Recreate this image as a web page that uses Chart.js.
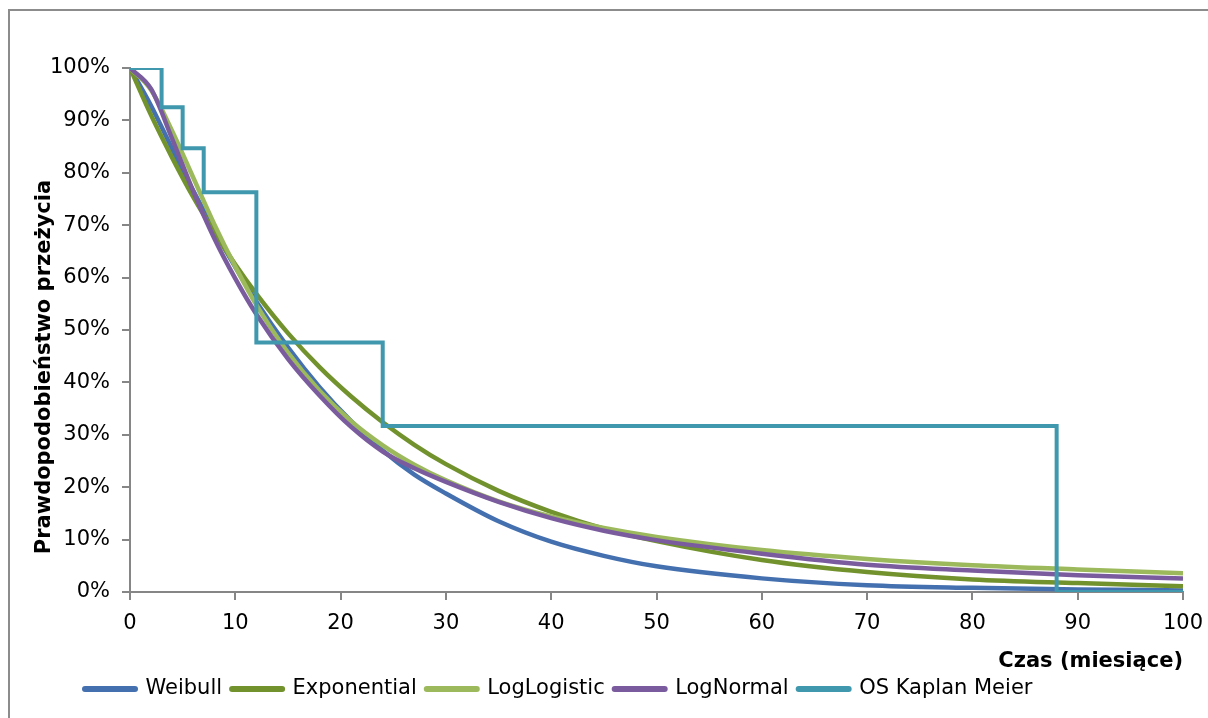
<!DOCTYPE html>
<html>
<head>
<meta charset="utf-8">
<script src="https://cdn.jsdelivr.net/npm/chart.js@4.4.1/dist/chart.umd.min.js"></script>
<style>
    html, body { margin: 0; padding: 0; background: #fff; overflow: hidden; }
    #frame { position: absolute; left: 8px; top: 9px; width: 1260px; height: 760px; border: 2px solid #8c8c8c; }
    #wrap { position: absolute; left: 0; top: 0; width: 1208px; height: 718px; }
</style>
</head>
<body>
<div id="frame"></div>
<div id="wrap"><canvas id="chart" width="1208" height="718"></canvas></div>
<script>
// Months on the x axis where the fitted curves were read
const months = [0, 2, 4, 6, 8, 10, 12, 15, 18, 21, 24, 27, 30, 35, 40, 45, 50, 60, 70, 80, 90, 100];

// Survival (%) of each parametric fit
const weibull     = [100, 92.8, 84.6, 76.6, 69.1, 62.0, 55.4, 46.7, 39.1, 32.6, 27.0, 22.4, 18.8, 13.5, 9.6, 6.9, 4.9, 2.6, 1.3, 0.8, 0.5, 0.3];
const exponential = [100, 91.0, 82.9, 75.4, 68.7, 62.5, 56.9, 49.4, 42.9, 37.3, 32.4, 28.1, 24.4, 19.3, 15.3, 12.1, 9.7, 6.1, 3.8, 2.4, 1.7, 1.1];
const logLogistic = [100, 95.8, 88.0, 79.1, 70.2, 62.1, 54.8, 45.7, 38.4, 32.6, 28.0, 24.3, 21.3, 17.3, 14.4, 12.2, 10.5, 8.0, 6.3, 5.1, 4.3, 3.6];
const logNormal   = [100, 96.0, 86.5, 76.5, 67.5, 59.8, 53.0, 44.5, 37.5, 31.5, 26.8, 23.6, 21.0, 17.2, 14.1, 11.7, 9.9, 7.3, 5.2, 4.1, 3.2, 2.6];

// Kaplan-Meier steps: month of each drop and survival after it
const kmMonths = [0, 3, 5, 7, 12, 24, 88, 100];
const kmValues = [100, 92.5, 84.7, 76.3, 47.6, 31.7, 0, 0];

const xTicks = [0, 10, 20, 30, 40, 50, 60, 70, 80, 90, 100];
const yTicks = [0, 10, 20, 30, 40, 50, 60, 70, 80, 90, 100];

const yTitle = 'Prawdopodobieństwo przeżycia';

const toPoints = (xs, ys) => xs.map((x, i) => ({ x: x, y: ys[i] }));

const axisGrey = '#868686';
const font = { family: '"DejaVu Sans", Verdana, sans-serif', size: 21 };
const boldFont = { family: font.family, size: 21, weight: 'bold' };

function curve(label, values, color, order) {
    return {
        label: label,
        data: toPoints(months, values),
        borderColor: color,
        backgroundColor: color,
        borderWidth: 4.5,
        pointRadius: 0,
        cubicInterpolationMode: 'monotone',
        order: order
    };
}

// shift the legend right so it starts under the plot like the original
const legendShift = {
    id: 'legendShift',
    afterLayout(chart) {
        chart.legend.left += 75;
    }
};

// vertical axis title, sitting a bit below the middle of the plot as in the original
const yTitlePlugin = {
    id: 'yTitle',
    afterDraw(chart) {
        const ctx = chart.ctx;
        const area = chart.chartArea;
        ctx.save();
        ctx.translate(45, (area.top + area.bottom) / 2 + 37);
        ctx.rotate(-Math.PI / 2);
        ctx.font = 'bold 21px ' + font.family;
        ctx.fillStyle = '#000';
        ctx.textAlign = 'center';
        ctx.textBaseline = 'middle';
        ctx.fillText(yTitle, 0, 0);
        ctx.restore();
    }
};

new Chart(document.getElementById('chart'), {
    type: 'line',
    data: {
        datasets: [
            curve('Weibull', weibull, '#4470b0', 5),
            curve('Exponential', exponential, '#72922e', 4),
            curve('LogLogistic', logLogistic, '#9cba5c', 3),
            curve('LogNormal', logNormal, '#7a5c9e', 2),
            {
                label: 'OS Kaplan Meier',
                data: toPoints(kmMonths, kmValues),
                borderColor: '#3f98ad',
                backgroundColor: '#3f98ad',
                borderWidth: 4,
                pointRadius: 0,
                stepped: 'before',
                order: 1
            }
        ]
    },
    options: {
        responsive: false,
        animation: false,
        devicePixelRatio: 1,
        layout: { padding: { left: 0, top: 68, right: 25, bottom: 8.5 } },
        plugins: {
            tooltip: { enabled: false },
            legend: {
                position: 'bottom',
                align: 'start',
                labels: {
                    font: font,
                    color: '#000',
                    padding: 10,
                    usePointStyle: true,
                    pointStyle: 'line',
                    pointStyleWidth: 50,
                    sort: (a, b) => a.datasetIndex - b.datasetIndex,
                    generateLabels: (chart) => Chart.defaults.plugins.legend.labels.generateLabels(chart)
                        .map(item => Object.assign(item, { lineWidth: 6, lineCap: 'round' }))
                }
            }
        },
        scales: {
            x: {
                type: 'linear',
                min: 0,
                max: 100,
                afterBuildTicks: (axis) => { axis.ticks = xTicks.map(v => ({ value: v })); },
                afterFit: (axis) => {
                    axis.height = 76.5;
                    axis.paddingLeft = 0;
                    axis.paddingRight = 20;
                },
                ticks: { font: font, color: '#000', padding: 11, maxRotation: 0 },
                grid: { drawOnChartArea: false, drawTicks: true, tickLength: 8, color: axisGrey, lineWidth: 2 },
                border: { color: axisGrey, width: 2 },
                title: {
                    display: true,
                    text: 'Czas (miesiące)',
                    align: 'end',
                    color: '#000',
                    font: boldFont,
                    padding: { top: 0, bottom: -5.5 }
                }
            },
            y: {
                min: 0,
                max: 100,
                afterBuildTicks: (axis) => { axis.ticks = yTicks.map(v => ({ value: v })); },
                afterFit: (axis) => { axis.width = 130; },
                ticks: { font: font, color: '#000', padding: 12, callback: (v) => v + '%' },
                grid: { drawOnChartArea: false, drawTicks: true, tickLength: 8, color: axisGrey, lineWidth: 2 },
                border: { color: axisGrey, width: 2 },
                title: { display: false }
            }
        }
    },
    plugins: [legendShift, yTitlePlugin]
});
</script>
</body>
</html>
